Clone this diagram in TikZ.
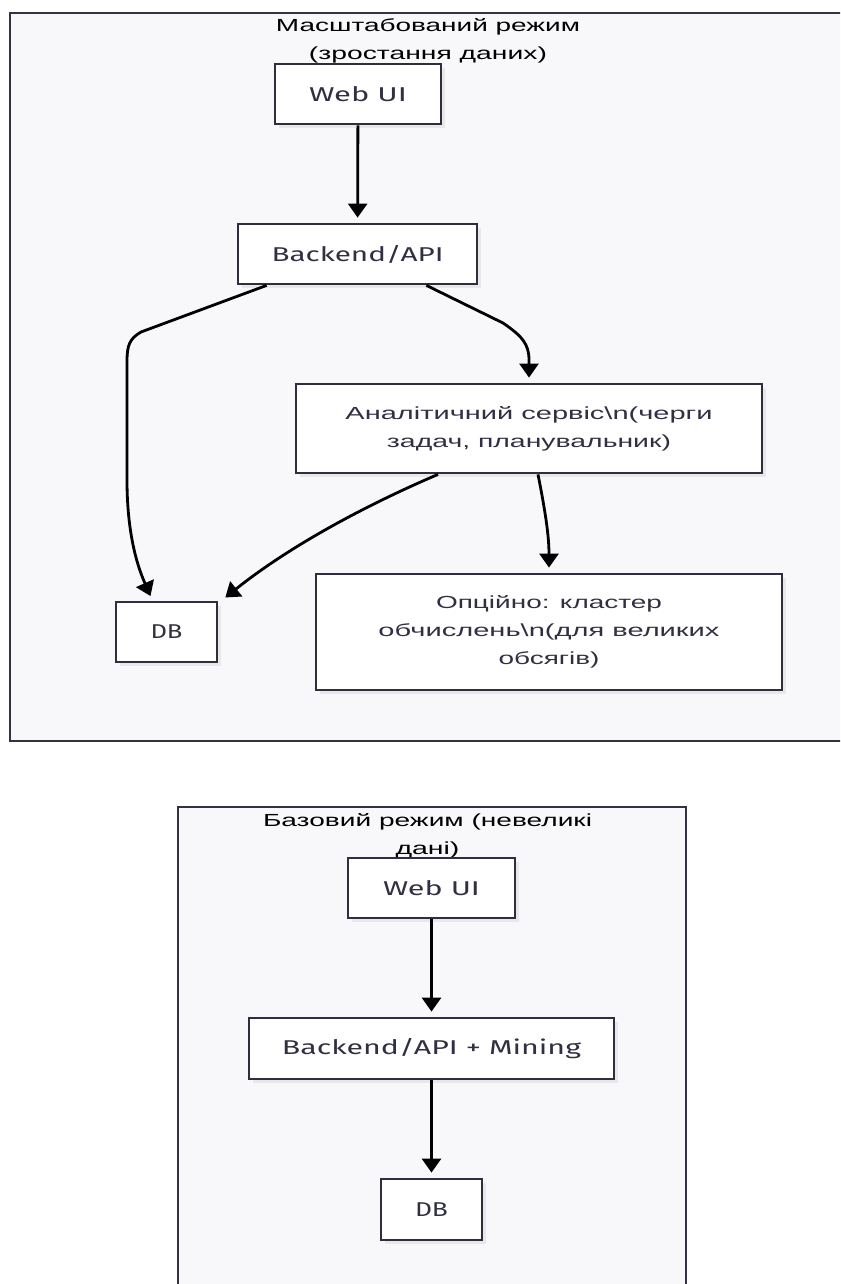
\documentclass[tikz,border=0pt]{standalone}
\usepackage{fontspec}
\setmainfont{Liberation Sans}
\newfontfamily\labfont{Fira Sans}
\usetikzlibrary{arrows.meta,shadows}
\definecolor{framefill}{RGB}{248,248,250}
\definecolor{framedraw}{RGB}{50,50,64}
\definecolor{boxdraw}{RGB}{46,46,62}
\definecolor{txt}{RGB}{48,48,66}
\newcommand{\fw}[2]{\resizebox{#1pt}{\height}{#2}}
\tikzset{
  frame/.style={draw=framedraw, fill=framefill, line width=2.6pt},
  box/.style={draw=boxdraw, fill=white, line width=2.8pt, text=txt, inner sep=0pt,
    drop shadow={shadow xshift=4pt, shadow yshift=-4pt, fill=black!9, opacity=1}},
  lat/.style={font=\labfont\fontsize{20}{23}\selectfont},
  cyr/.style={font=\fontsize{17.5}{28}\selectfont, align=center},
  ttl/.style={font=\fontsize{17.5}{28}\selectfont, align=center, text=black, inner sep=0pt},
  arr/.style={-{Triangle[width=19pt,length=14pt]}, line width=2.8pt, shorten >=5pt}
}
\begin{document}
\begin{tikzpicture}[x=1pt,y=-1pt]
\useasboundingbox (0,0) rectangle (840,1284);
\clip (0,0) rectangle (840,1284);
\fill[white] (0,0) rectangle (840,1284);
% ---------- scaled mode ----------
\draw[frame] (10,13) rectangle (860,741);
\node[ttl] (ttlA) at (428,41) {\fw{304}{Масштабований режим}\\ \fw{238}{(зростання даних)}};
\node[box, lat, minimum width=166pt, minimum height=60pt] (webA) at (358,94) {\fw{98}{Web UI}};
\node[box, lat, minimum width=239pt, minimum height=60pt] (backA) at (357.5,254) {\fw{172}{Backend/API}};
\node[box, cyr, minimum width=466pt, minimum height=89pt] (anaA) at (529,428.5)
  {\fw{367}{Аналітичний сервіс\textbackslash{}n(черги}\\ \fw{284}{задач, планувальник)}};
\node[box, lat, minimum width=101pt, minimum height=60pt] (dbA) at (166.5,632) {\fw{32}{DB}};
\node[box, cyr, minimum width=466pt, minimum height=116pt] (optA) at (549,632)
  {\fw{226}{Опційно: кластер}\\ \fw{341}{обчислень\textbackslash{}n(для великих}\\ \fw{101}{обсягів)}};
\draw[arr] (webA) -- (backA);
\draw[arr] ([xshift=30pt]backA.south west) -- (141,332)
  .. controls (129,339) and (127,346) .. (127,362) -- (127,480)
  .. controls (127,540) and (140,572) .. ([xshift=-14pt]dbA.north);
\draw[arr] ([xshift=-52pt]backA.south east) -- (503,323)
  .. controls (522,336) and (529,344) .. (529,360) -- (anaA.north);
\draw[arr] ([xshift=-91pt]anaA.south) .. controls (385,497) and (300,538) .. ([xshift=3pt]dbA.north east);
\draw[arr] ([xshift=9pt]anaA.south) .. controls (545,510) and (549,535) .. (optA.north);
% ---------- basic mode ----------
\draw[frame] (178,807) rectangle (686,1310);
\node[ttl] (ttlB) at (427.5,836) {\fw{329}{Базовий режим (невеликі}\\ \fw{64}{дані)}};
\node[box, lat, minimum width=167pt, minimum height=60pt] (webB) at (431.5,888) {\fw{97}{Web UI}};
\node[box, lat, minimum width=365pt, minimum height=61pt] (backB) at (431.5,1048.5) {\fw{299}{Backend/API + Mining}};
\node[box, lat, minimum width=101pt, minimum height=61pt] (dbB) at (431.5,1209.5) {\fw{33}{DB}};
\draw[arr] (webB) -- (backB);
\draw[arr] (backB) -- (dbB);
\end{tikzpicture}
\end{document}
